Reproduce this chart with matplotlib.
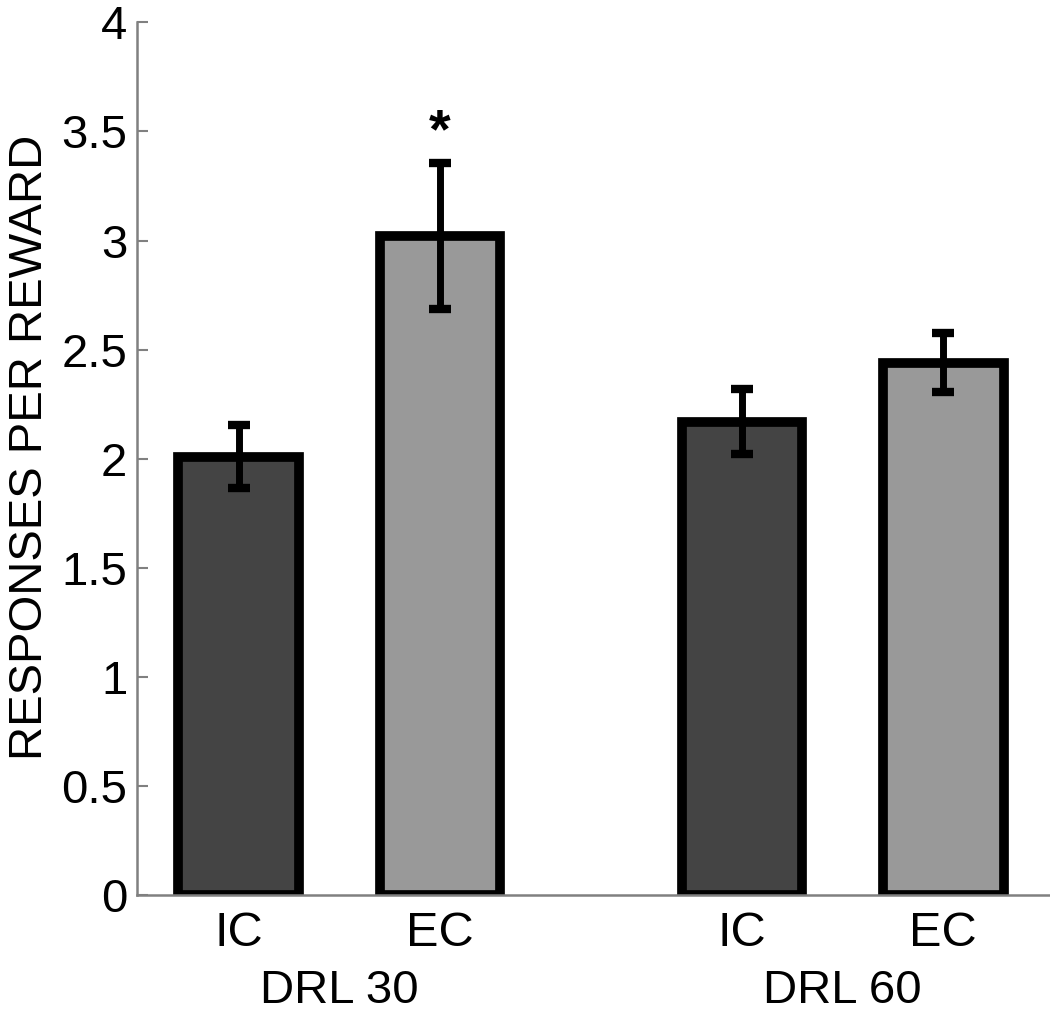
import matplotlib.pyplot as plt
import matplotlib.transforms as mtransforms
import numpy as np

plt.rcParams['font.family'] = ['Liberation Sans', 'DejaVu Sans']

groups = ['DRL 30', 'DRL 60']
means = [2.01, 3.02, 2.17, 2.44]
errors = [0.145, 0.335, 0.15, 0.135]
labels = ['IC', 'EC', 'IC', 'EC']
bar_colors = ['#444444', '#999999', '#444444', '#999999']
positions = [1.0, 2.0, 3.5, 4.5]

fig = plt.figure(figsize=(10.5, 10.15), dpi=100)
ax = fig.add_axes([0.1305, 0.118, 0.8695, 0.86])

ax.bar(positions, means, width=0.6, color=bar_colors, edgecolor='black',
       linewidth=7, zorder=2)
ax.errorbar(positions, means, yerr=errors, fmt='none', ecolor='black',
            elinewidth=5, capsize=8, capthick=6, zorder=3)

# significance marker
ax.text(positions[1], 3.49, '*', ha='center', va='center', fontsize=40,
        fontweight='bold')

ax.set_xlim(0.495, 5.03)
ax.set_ylim(0, 4)
ax.set_yticks(np.arange(0, 4.01, 0.5))
ax.set_yticklabels(['0', '0.5', '1', '1.5', '2', '2.5', '3', '3.5', '4'])
ax.set_xticks(positions)
ax.set_xticklabels(labels)
ax.tick_params(axis='y', direction='in', length=8, width=1.5, color='#808080',
               labelsize=34, pad=7)
ax.tick_params(axis='x', length=0, labelsize=35, pad=11)

for side in ['top', 'right']:
    ax.spines[side].set_visible(False)
for side in ['left', 'bottom']:
    ax.spines[side].set_color('#808080')
    ax.spines[side].set_linewidth(1.8)

ax.set_ylabel('RESPONSES PER REWARD', fontsize=34)
ax.yaxis.set_label_coords(-0.093, 0.513)

trans = mtransforms.blended_transform_factory(ax.transData, fig.transFigure)
for i, g in enumerate(groups):
    cx = (positions[2 * i] + positions[2 * i + 1]) / 2
    ax.text(cx, 0.012, g, transform=trans, ha='center', va='baseline',
            fontsize=34)

fig.savefig('out.png', dpi=100)
